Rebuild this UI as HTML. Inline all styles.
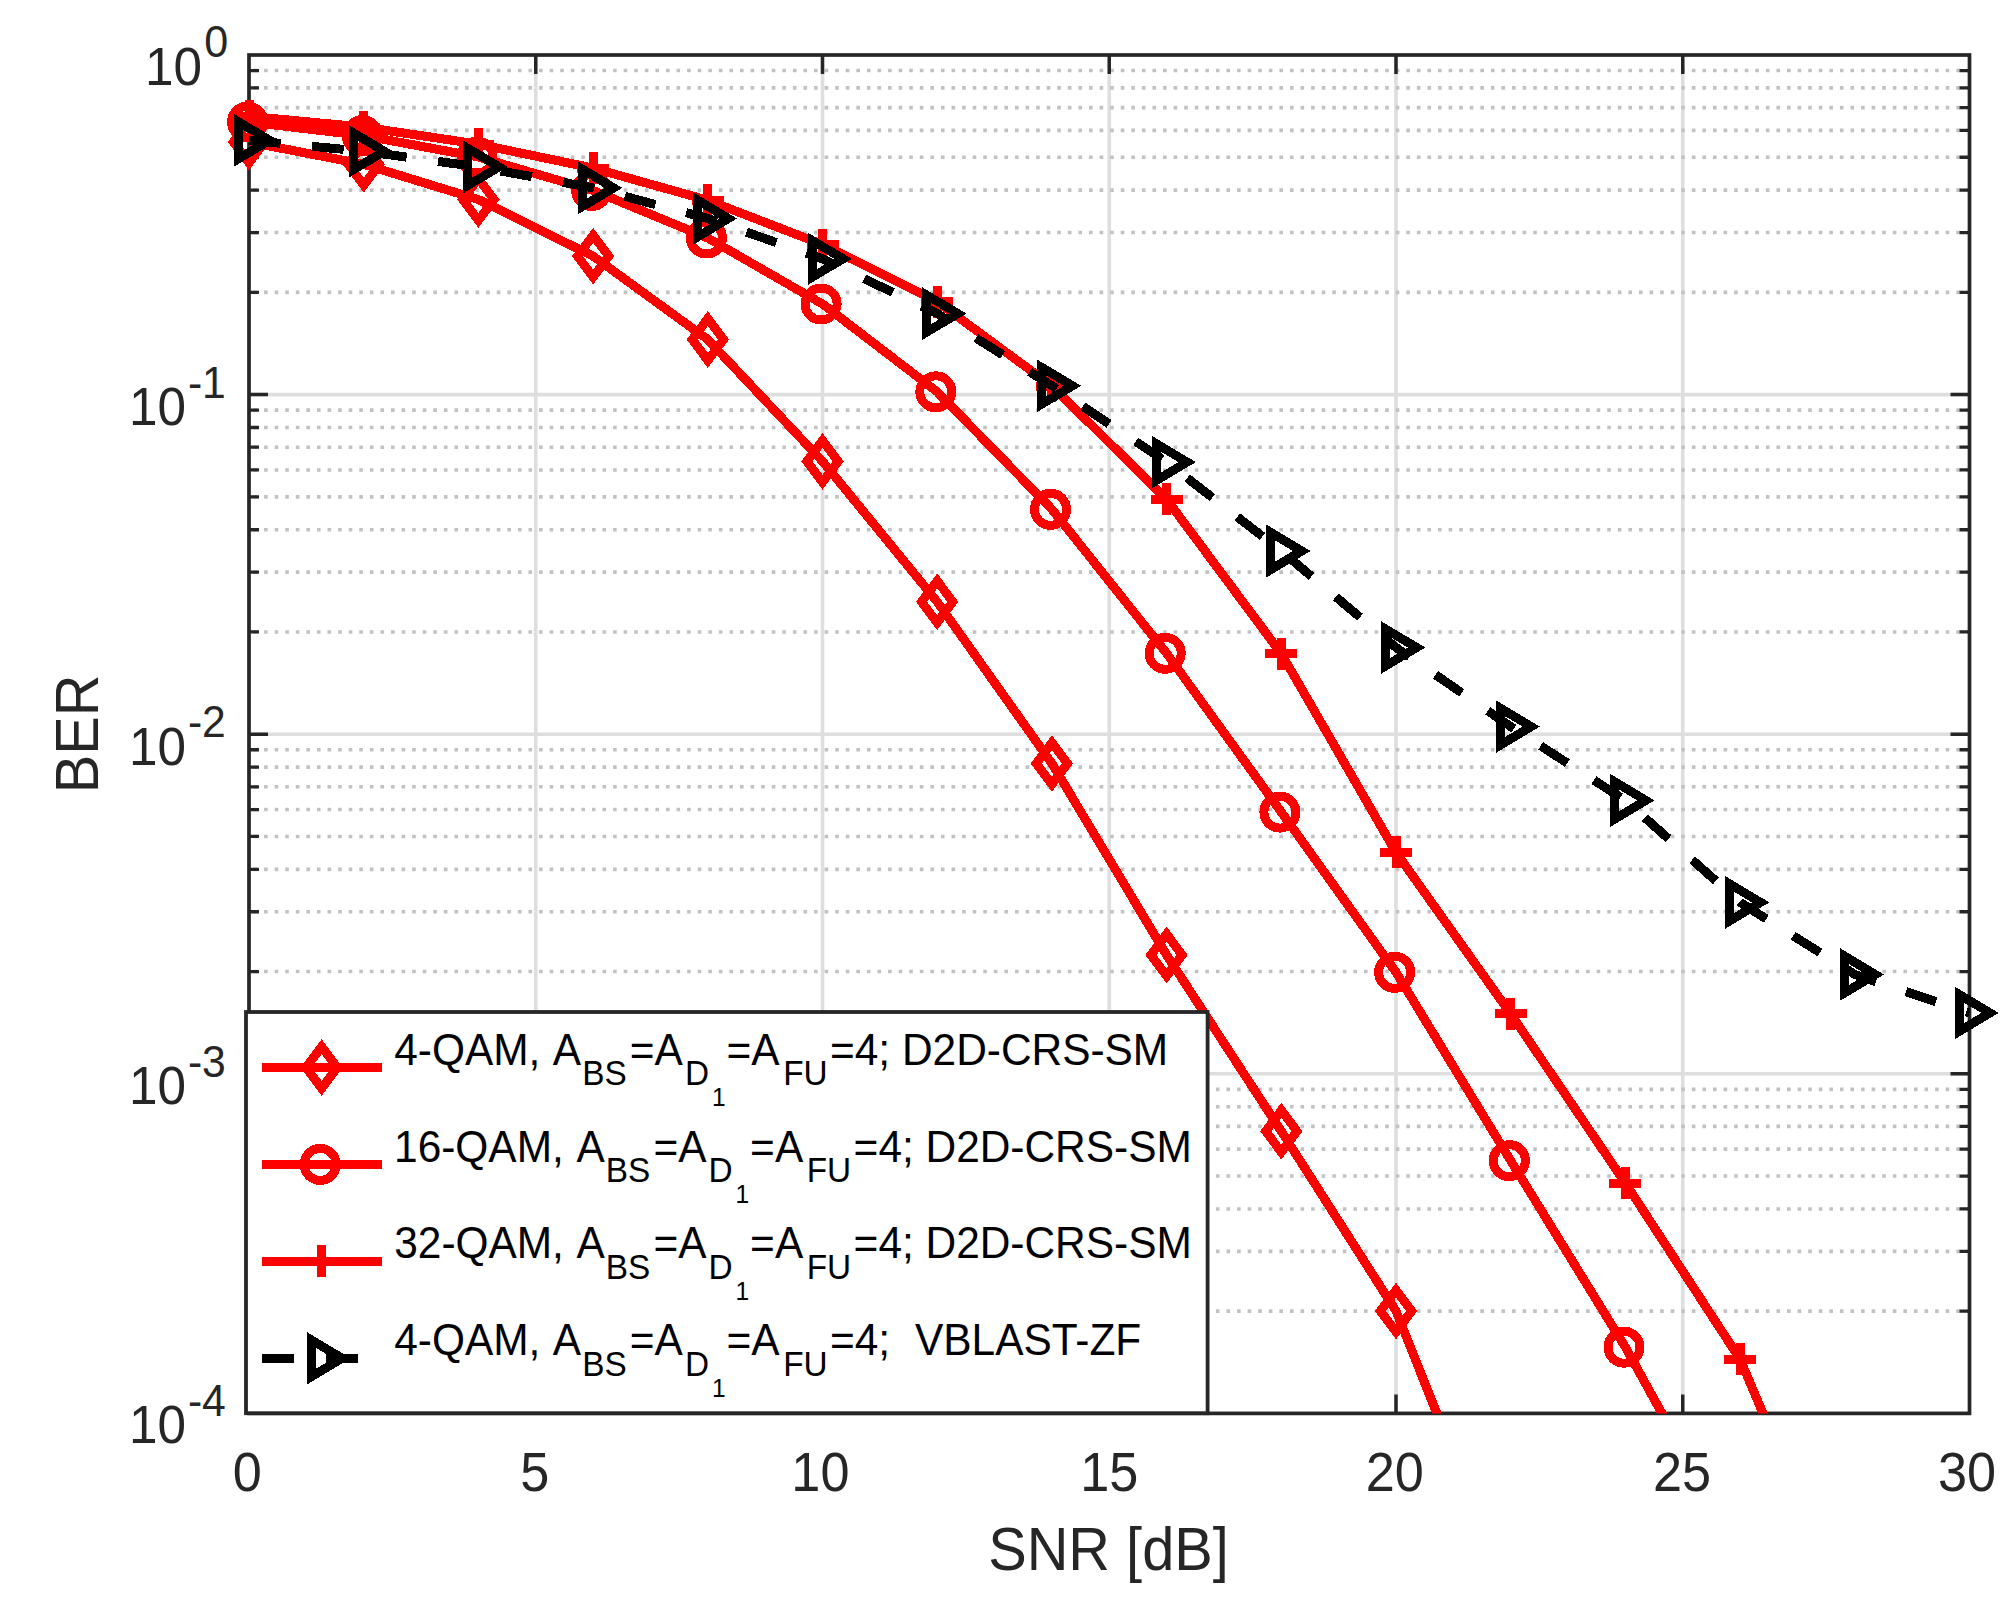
<!DOCTYPE html><html><head><meta charset="utf-8"><title>BER vs SNR</title><style>html,body{margin:0;padding:0;background:#fff;overflow:hidden;}svg{display:block;}text{font-family:"Liberation Sans",Arial,Helvetica,sans-serif;}</style></head><body>
<svg width="2016" height="1615" viewBox="0 0 2016 1615">
<rect x="0" y="0" width="2016" height="1615" fill="#fff"/>
<defs><clipPath id="ax"><rect x="249" y="55" width="1720.5" height="1358.4"/></clipPath></defs>
<path d="M249 394.6H1969.5M249 734.2H1969.5M249 1073.8H1969.5M535.75 55V1413.4M822.5 55V1413.4M1109.25 55V1413.4M1396 55V1413.4M1682.75 55V1413.4" stroke="#dedede" stroke-width="3.6" fill="none"/>
<path d="M249 292.37H1969.5M249 232.57H1969.5M249 190.14H1969.5M249 157.23H1969.5M249 130.34H1969.5M249 107.6H1969.5M249 87.91H1969.5M249 70.54H1969.5M249 631.97H1969.5M249 572.17H1969.5M249 529.74H1969.5M249 496.83H1969.5M249 469.94H1969.5M249 447.2H1969.5M249 427.51H1969.5M249 410.14H1969.5M249 971.57H1969.5M249 911.77H1969.5M249 869.34H1969.5M249 836.43H1969.5M249 809.54H1969.5M249 786.8H1969.5M249 767.11H1969.5M249 749.74H1969.5M249 1311.17H1969.5M249 1251.37H1969.5M249 1208.94H1969.5M249 1176.03H1969.5M249 1149.14H1969.5M249 1126.4H1969.5M249 1106.71H1969.5M249 1089.34H1969.5" stroke="#c2c2c2" stroke-width="3.6" stroke-dasharray="3.6 6.976" stroke-dashoffset="-4.52" fill="none"/>
<path d="M535.75 1413.4V1394.4M535.75 55V74M822.5 1413.4V1394.4M822.5 55V74M1109.25 1413.4V1394.4M1109.25 55V74M1396 1413.4V1394.4M1396 55V74M1682.75 1413.4V1394.4M1682.75 55V74M249 394.6H268M1969.5 394.6H1950.5M249 734.2H268M1969.5 734.2H1950.5M249 1073.8H268M1969.5 1073.8H1950.5" stroke="#262626" stroke-width="3.5" fill="none"/>
<path d="M249 292.37H259M1969.5 292.37H1959.5M249 232.57H259M1969.5 232.57H1959.5M249 190.14H259M1969.5 190.14H1959.5M249 157.23H259M1969.5 157.23H1959.5M249 130.34H259M1969.5 130.34H1959.5M249 107.6H259M1969.5 107.6H1959.5M249 87.91H259M1969.5 87.91H1959.5M249 70.54H259M1969.5 70.54H1959.5M249 631.97H259M1969.5 631.97H1959.5M249 572.17H259M1969.5 572.17H1959.5M249 529.74H259M1969.5 529.74H1959.5M249 496.83H259M1969.5 496.83H1959.5M249 469.94H259M1969.5 469.94H1959.5M249 447.2H259M1969.5 447.2H1959.5M249 427.51H259M1969.5 427.51H1959.5M249 410.14H259M1969.5 410.14H1959.5M249 971.57H259M1969.5 971.57H1959.5M249 911.77H259M1969.5 911.77H1959.5M249 869.34H259M1969.5 869.34H1959.5M249 836.43H259M1969.5 836.43H1959.5M249 809.54H259M1969.5 809.54H1959.5M249 786.8H259M1969.5 786.8H1959.5M249 767.11H259M1969.5 767.11H1959.5M249 749.74H259M1969.5 749.74H1959.5M249 1311.17H259M1969.5 1311.17H1959.5M249 1251.37H259M1969.5 1251.37H1959.5M249 1208.94H259M1969.5 1208.94H1959.5M249 1176.03H259M1969.5 1176.03H1959.5M249 1149.14H259M1969.5 1149.14H1959.5M249 1126.4H259M1969.5 1126.4H1959.5M249 1106.71H259M1969.5 1106.71H1959.5M249 1089.34H259M1969.5 1089.34H1959.5" stroke="#262626" stroke-width="3.3" fill="none"/>
<rect x="249" y="55" width="1720.5" height="1358.4" stroke="#262626" stroke-width="3.7" fill="none"/>
<g shape-rendering="crispEdges">
<polyline points="249,142 363.7,164.3 478.4,199.5 593.1,256.2 707.8,339.5 822.5,461.3 937.2,601.8 1051.9,763.5 1166.6,955 1281.3,1131.2 1396,1311 1510.7,1598.2" stroke="#ff0000" stroke-width="9" fill="none" stroke-linejoin="round" clip-path="url(#ax)"/>
<path d="M249 121.1L264.6 142L249 162.9L233.4 142ZM363.7 143.4L379.3 164.3L363.7 185.2L348.1 164.3ZM478.4 178.6L494 199.5L478.4 220.4L462.8 199.5ZM593.1 235.3L608.7 256.2L593.1 277.1L577.5 256.2ZM707.8 318.6L723.4 339.5L707.8 360.4L692.2 339.5ZM822.5 440.4L838.1 461.3L822.5 482.2L806.9 461.3ZM937.2 580.9L952.8 601.8L937.2 622.7L921.6 601.8ZM1051.9 742.6L1067.5 763.5L1051.9 784.4L1036.3 763.5ZM1166.6 934.1L1182.2 955L1166.6 975.9L1151 955ZM1281.3 1110.3L1296.9 1131.2L1281.3 1152.1L1265.7 1131.2ZM1396 1290.1L1411.6 1311L1396 1331.9L1380.4 1311Z" stroke="#ff0000" stroke-width="9" fill="none" stroke-linejoin="miter" stroke-miterlimit="10"/>
<polyline points="249,122 363.7,135.6 478.4,157 593.1,190.5 707.8,238 822.5,304 937.2,391.8 1051.9,509.3 1166.6,653.3 1281.3,812.1 1396,972.3 1510.7,1160.7 1625.4,1347.2 1740.1,1554.7" stroke="#ff0000" stroke-width="9" fill="none" stroke-linejoin="round" clip-path="url(#ax)"/>
<path d="M231.6 122a16 16 0 1 0 32 0a16 16 0 1 0 -32 0ZM346.3 135.6a16 16 0 1 0 32 0a16 16 0 1 0 -32 0ZM461 157a16 16 0 1 0 32 0a16 16 0 1 0 -32 0ZM575.7 190.5a16 16 0 1 0 32 0a16 16 0 1 0 -32 0ZM690.4 238a16 16 0 1 0 32 0a16 16 0 1 0 -32 0ZM805.1 304a16 16 0 1 0 32 0a16 16 0 1 0 -32 0ZM919.8 391.8a16 16 0 1 0 32 0a16 16 0 1 0 -32 0ZM1034.5 509.3a16 16 0 1 0 32 0a16 16 0 1 0 -32 0ZM1149.2 653.3a16 16 0 1 0 32 0a16 16 0 1 0 -32 0ZM1263.9 812.1a16 16 0 1 0 32 0a16 16 0 1 0 -32 0ZM1378.6 972.3a16 16 0 1 0 32 0a16 16 0 1 0 -32 0ZM1493.3 1160.7a16 16 0 1 0 32 0a16 16 0 1 0 -32 0ZM1608 1347.2a16 16 0 1 0 32 0a16 16 0 1 0 -32 0Z" stroke="#ff0000" stroke-width="9" fill="none" stroke-linejoin="miter" stroke-miterlimit="10"/>
<polyline points="249,116.3 363.7,127.1 478.4,144.2 593.1,168.1 707.8,200.3 822.5,244.5 937.2,301.7 1051.9,386 1166.6,499.3 1281.3,653.6 1396,852.4 1510.7,1013.8 1625.4,1183.2 1740.1,1359.2 1854.8,1630.7" stroke="#ff0000" stroke-width="9" fill="none" stroke-linejoin="round" clip-path="url(#ax)"/>
<path d="M233 116.3H265M249 100.3V132.3M347.7 127.1H379.7M363.7 111.1V143.1M462.4 144.2H494.4M478.4 128.2V160.2M577.1 168.1H609.1M593.1 152.1V184.1M691.8 200.3H723.8M707.8 184.3V216.3M806.5 244.5H838.5M822.5 228.5V260.5M921.2 301.7H953.2M937.2 285.7V317.7M1035.9 386H1067.9M1051.9 370V402M1150.6 499.3H1182.6M1166.6 483.3V515.3M1265.3 653.6H1297.3M1281.3 637.6V669.6M1380 852.4H1412M1396 836.4V868.4M1494.7 1013.8H1526.7M1510.7 997.8V1029.8M1609.4 1183.2H1641.4M1625.4 1167.2V1199.2M1724.1 1359.2H1756.1M1740.1 1343.2V1375.2" stroke="#ff0000" stroke-width="9" fill="none" stroke-linejoin="miter" stroke-miterlimit="10"/>
<polyline points="249,140.3 363.7,151.3 478.4,166.9 593.1,187.9 707.8,218.5 822.5,258.8 937.2,313.6 1051.9,385.8 1166.6,462.1 1281.3,551 1396,647.5 1510.7,726.6 1625.4,800.4 1740.1,902.4 1854.8,974.5 1969.5,1012.9" stroke="#000" stroke-width="9" fill="none" stroke-linejoin="round" stroke-dasharray="31.7 31.7" clip-path="url(#ax)"/>
<path d="M238.5 121.8L269.5 140.3L238.5 158.8ZM353.2 132.8L384.2 151.3L353.2 169.8ZM467.9 148.4L498.9 166.9L467.9 185.4ZM582.6 169.4L613.6 187.9L582.6 206.4ZM697.3 200L728.3 218.5L697.3 237ZM812 240.3L843 258.8L812 277.3ZM926.7 295.1L957.7 313.6L926.7 332.1ZM1041.4 367.3L1072.4 385.8L1041.4 404.3ZM1156.1 443.6L1187.1 462.1L1156.1 480.6ZM1270.8 532.5L1301.8 551L1270.8 569.5ZM1385.5 629L1416.5 647.5L1385.5 666ZM1500.2 708.1L1531.2 726.6L1500.2 745.1ZM1614.9 781.9L1645.9 800.4L1614.9 818.9ZM1729.6 883.9L1760.6 902.4L1729.6 920.9ZM1844.3 956L1875.3 974.5L1844.3 993ZM1959 994.4L1990 1012.9L1959 1031.4Z" stroke="#000" stroke-width="9" fill="none" stroke-linejoin="miter" stroke-miterlimit="10"/>
</g>
<g fill="#262626">
<text transform="translate(247.2 1491.3) scale(0.95 1)" font-size="55" text-anchor="middle">0</text>
<text transform="translate(534.75 1491.3) scale(0.95 1)" font-size="55" text-anchor="middle">5</text>
<text transform="translate(820.4 1491.3) scale(0.95 1)" font-size="55" text-anchor="middle">10</text>
<text transform="translate(1109.25 1491.3) scale(0.95 1)" font-size="55" text-anchor="middle">15</text>
<text transform="translate(1394.7 1491.3) scale(0.95 1)" font-size="55" text-anchor="middle">20</text>
<text transform="translate(1681.95 1491.3) scale(0.95 1)" font-size="55" text-anchor="middle">25</text>
<text transform="translate(1967 1491.3) scale(0.95 1)" font-size="55" text-anchor="middle">30</text>
<text transform="translate(144.9 84.6) scale(0.95 1)" font-size="54">10</text>
<text transform="translate(204.2 57) scale(0.97 1)" font-size="44.5">0</text>
<text transform="translate(129 425) scale(0.95 1)" font-size="54">10</text>
<text transform="translate(187.9 397.6) scale(0.97 1)" font-size="44">-1</text>
<text transform="translate(129 764.6) scale(0.95 1)" font-size="54">10</text>
<text transform="translate(187.9 737.2) scale(0.97 1)" font-size="44">-2</text>
<text transform="translate(129 1104.2) scale(0.95 1)" font-size="54">10</text>
<text transform="translate(187.9 1076.8) scale(0.97 1)" font-size="44">-3</text>
<text transform="translate(129 1443) scale(0.95 1)" font-size="54">10</text>
<text transform="translate(187.9 1416.4) scale(0.97 1)" font-size="44">-4</text>
<text transform="translate(1108.5 1570) scale(0.95 1)" font-size="60.8" text-anchor="middle">SNR [dB]</text>
<text transform="translate(97.8 734) rotate(-90) scale(0.95 1)" font-size="60.8" text-anchor="middle">BER</text>
</g>
<rect x="246" y="1012" width="961.6" height="401.2" fill="#fff" stroke="#262626" stroke-width="3.8"/>
<g shape-rendering="crispEdges">
<path d="M262 1067.5H382" stroke="#ff0000" stroke-width="9" fill="none"/>
<path d="M321.6 1046.6L337.2 1067.5L321.6 1088.4L306 1067.5Z" stroke="#ff0000" stroke-width="9" fill="none" stroke-miterlimit="10"/>
<path d="M262 1164.43H382" stroke="#ff0000" stroke-width="9" fill="none"/>
<path d="M304.2 1164.43a16 16 0 1 0 32 0a16 16 0 1 0 -32 0Z" stroke="#ff0000" stroke-width="9" fill="none" stroke-miterlimit="10"/>
<path d="M262 1261.36H382" stroke="#ff0000" stroke-width="9" fill="none"/>
<path d="M305.6 1261.36H337.6M321.6 1245.36V1277.36" stroke="#ff0000" stroke-width="9" fill="none" stroke-miterlimit="10"/>
<path d="M262 1358.29H382" stroke="#000" stroke-width="9" stroke-dasharray="32 32" fill="none"/>
<path d="M311.1 1339.79L342.1 1358.29L311.1 1376.79Z" stroke="#000" stroke-width="9" fill="none" stroke-miterlimit="10"/>
</g>
<g fill="#000" transform="scale(0.947 1)">
<text x="416.29" y="1064.6" font-size="44.8">4-QAM,</text>
<text x="583.75" y="1064.6" font-size="44.8">A</text>
<text x="614.85" y="1085.3" font-size="35.2">BS</text>
<text x="665.08" y="1064.6" font-size="44.8">=A</text>
<text x="723.3" y="1085.3" font-size="35.2">D</text>
<text x="751.73" y="1106.1" font-size="25.9">1</text>
<text x="767.19" y="1064.6" font-size="44.8">=A</text>
<text x="826.99" y="1085.3" font-size="35.2">FU</text>
<text x="876.48" y="1064.6" font-size="44.8">=4; D2D-CRS-SM</text>
<text x="416.13" y="1161.53" font-size="44.8">16-QAM,</text>
<text x="608.67" y="1161.53" font-size="44.8">A</text>
<text x="639.77" y="1182.23" font-size="35.2">BS</text>
<text x="690" y="1161.53" font-size="44.8">=A</text>
<text x="748.22" y="1182.23" font-size="35.2">D</text>
<text x="776.65" y="1203.03" font-size="25.9">1</text>
<text x="792.11" y="1161.53" font-size="44.8">=A</text>
<text x="851.91" y="1182.23" font-size="35.2">FU</text>
<text x="901.4" y="1161.53" font-size="44.8">=4; D2D-CRS-SM</text>
<text x="416.29" y="1258.46" font-size="44.8">32-QAM,</text>
<text x="608.67" y="1258.46" font-size="44.8">A</text>
<text x="639.77" y="1279.16" font-size="35.2">BS</text>
<text x="690" y="1258.46" font-size="44.8">=A</text>
<text x="748.22" y="1279.16" font-size="35.2">D</text>
<text x="776.65" y="1299.96" font-size="25.9">1</text>
<text x="792.11" y="1258.46" font-size="44.8">=A</text>
<text x="851.91" y="1279.16" font-size="35.2">FU</text>
<text x="901.4" y="1258.46" font-size="44.8">=4; D2D-CRS-SM</text>
<text x="416.29" y="1355.39" font-size="44.8">4-QAM,</text>
<text x="583.75" y="1355.39" font-size="44.8">A</text>
<text x="614.85" y="1376.09" font-size="35.2">BS</text>
<text x="665.08" y="1355.39" font-size="44.8">=A</text>
<text x="723.3" y="1376.09" font-size="35.2">D</text>
<text x="751.73" y="1396.89" font-size="25.9">1</text>
<text x="767.19" y="1355.39" font-size="44.8">=A</text>
<text x="826.99" y="1376.09" font-size="35.2">FU</text>
<text x="876.48" y="1355.39" font-size="44.8">=4;</text>
<text x="966.22" y="1355.39" font-size="44.8">VBLAST-ZF</text>
</g>
</svg></body></html>
